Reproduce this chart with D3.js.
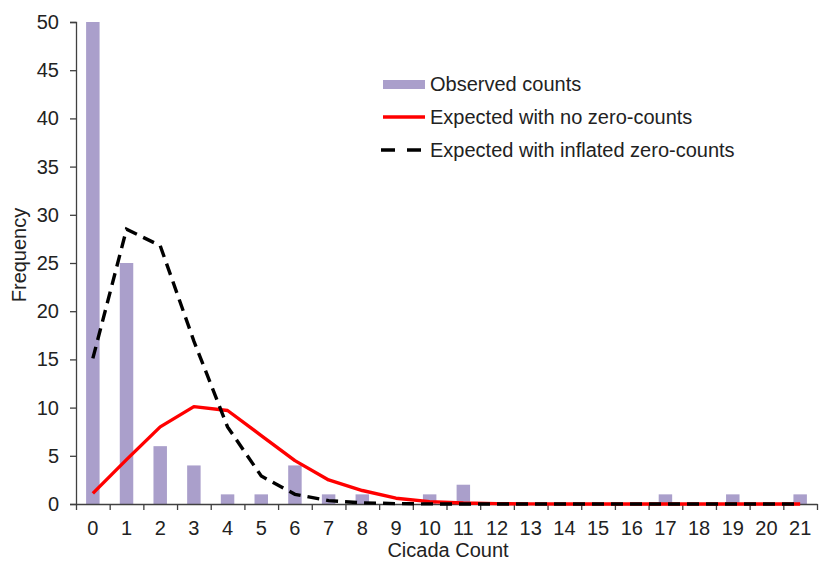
<!DOCTYPE html>
<html>
<head>
<meta charset="utf-8">
<script src="https://cdn.jsdelivr.net/npm/d3@7"></script>
<style>
  body { margin: 0; background: #fff; }
  svg { font-family: "Liberation Sans", Arial, sans-serif; }
  .axis path, .axis line { stroke: #404040; stroke-width: 1.3; }
  .axis text { fill: #222; font-size: 20px; }
</style>
</head>
<body>
<svg id="chart" width="827" height="565"></svg>
<script>
// counts 0..21
const counts = d3.range(0, 22);
const observed = [50, 25, 6, 4, 1, 1, 4, 1, 1, 0, 1, 2, 0, 0, 0, 0, 0, 1, 0, 1, 0, 1];
const expectedNoZero = [1.1, 4.6, 8.0, 10.1, 9.7, 7.1, 4.5, 2.5, 1.4, 0.6, 0.25, 0.1, 0.04, 0.01, 0, 0, 0, 0, 0, 0, 0, 0];
const expectedInflated = [15.1, 28.5, 26.8, 16.9, 8.0, 2.9, 1.0, 0.35, 0.12, 0.04, 0.01, 0, 0, 0, 0, 0, 0, 0, 0, 0, 0, 0];
const yTicks = d3.range(0, 51, 5);
const legendLabels = ['Observed counts', 'Expected with no zero-counts', 'Expected with inflated zero-counts'];

const svg = d3.select('#chart');
const plotLeft = 76, plotRight = 817, plotTop = 22, plotBottom = 504;

const x = d3.scaleBand()
  .domain(counts)
  .range([plotLeft, plotRight])
  .paddingInner(0.6)
  .paddingOuter(0.3);
// band edges for the tick marks
const xEdge = d3.scaleLinear().domain([-0.5, 21.5]).range([plotLeft, plotRight]);
const y = d3.scaleLinear().domain([0, 50]).range([plotBottom, plotTop]);

const cx = d => x(d) + x.bandwidth() / 2;

// bars
svg.append('g')
  .selectAll('rect')
  .data(counts)
  .enter()
  .append('rect')
  .attr('x', d => x(d))
  .attr('width', x.bandwidth())
  .attr('y', d => y(observed[d]))
  .attr('height', d => y(0) - y(observed[d]))
  .style('fill', '#aa9fcb');

// axes
svg.append('g')
  .attr('class', 'axis')
  .attr('transform', `translate(${plotLeft},0)`)
  .call(d3.axisLeft(y).tickValues(yTicks).tickSize(6).tickPadding(11));

svg.append('g')
  .attr('class', 'axis')
  .attr('transform', `translate(0,${plotBottom})`)
  .call(d3.axisBottom(xEdge).tickValues(d3.range(-0.5, 22, 1)).tickFormat('').tickSize(6).tickSizeOuter(0));

svg.append('g')
  .attr('class', 'axis')
  .attr('transform', `translate(0,${plotBottom})`)
  .call(d3.axisBottom(x).tickSize(0).tickPadding(17))
  .call(g => g.select('.domain').remove());

// lines
const line = vals => d3.line()
  .x(d => cx(d))
  .y(d => y(vals[d]))(counts);

svg.append('path')
  .attr('d', line(expectedNoZero))
  .style('fill', 'none')
  .style('stroke', '#ff0000')
  .style('stroke-width', 3.4)
  .style('stroke-linejoin', 'round');

svg.append('path')
  .attr('d', line(expectedInflated))
  .style('fill', 'none')
  .style('stroke', '#000')
  .style('stroke-width', 3.4)
  .style('stroke-dasharray', '12,7');

// axis titles
svg.append('text')
  .attr('transform', 'translate(26,255) rotate(-90)')
  .attr('text-anchor', 'middle')
  .style('font-size', '20px')
  .style('fill', '#222')
  .text('Frequency');

svg.append('text')
  .attr('x', 448)
  .attr('y', 557)
  .attr('text-anchor', 'middle')
  .style('font-size', '20px')
  .style('fill', '#222')
  .text('Cicada Count');

// legend
const legend = svg.append('g').attr('transform', 'translate(383,84)');
const rowH = 33;
legend.append('rect')
  .attr('x', 0).attr('y', -4).attr('width', 42).attr('height', 9)
  .style('fill', '#aa9fcb');
legend.append('line')
  .attr('x1', 0).attr('x2', 42).attr('y1', rowH).attr('y2', rowH)
  .style('stroke', '#ff0000').style('stroke-width', 3.4);
legend.append('line')
  .attr('x1', -2).attr('x2', 42).attr('y1', rowH * 2).attr('y2', rowH * 2)
  .style('stroke', '#000').style('stroke-width', 3.4)
  .style('stroke-dasharray', '14,12');
legend.selectAll('text.lg')
  .data(legendLabels)
  .enter()
  .append('text')
  .attr('class', 'lg')
  .attr('x', 47)
  .attr('y', (d, i) => i * rowH + 7)
  .style('font-size', '20px')
  .style('fill', '#222')
  .text(d => d);
</script>
</body>
</html>
